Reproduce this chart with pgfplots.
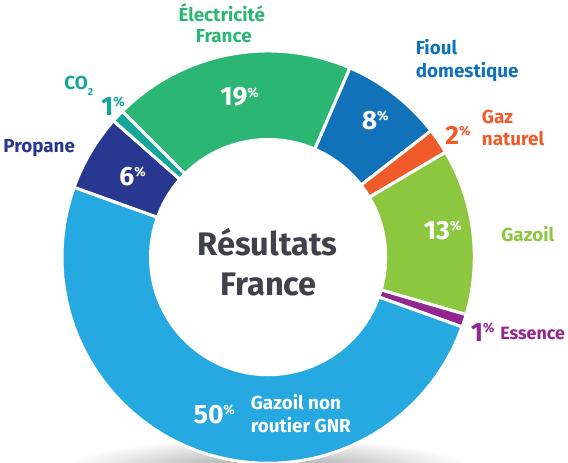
\documentclass[border=0pt]{standalone}
\usepackage{pgfplots}
\pgfplotsset{compat=1.18}
\usepackage{pgfplotstable}
\usepackage{fontspec}
\setmainfont{Fira Sans}
\definecolor{cElec}{RGB}{43,182,115}
\definecolor{cFioul}{RGB}{17,114,186}
\definecolor{cGaz}{RGB}{241,90,41}
\definecolor{cGazoil}{RGB}{141,198,63}
\definecolor{cEss}{RGB}{146,39,143}
\definecolor{cGNR}{RGB}{38,169,224}
\definecolor{cProp}{RGB}{40,56,144}
\definecolor{cCO}{RGB}{20,166,153}
\definecolor{cTxt}{RGB}{62,66,74}
\pgfplotstableread{
name value color
Elec 19 cElec
Fioul 8 cFioul
GazNat 2 cGaz
Gazoil 13 cGazoil
Essence 1 cEss
GNR 50 cGNR
Propane 6 cProp
CO2 1 cCO
}\shares
\def\cx{273.5}\def\cy{201.5}\def\Ro{202.5}\def\Ri{115.5}
\newcommand{\lab}{\fontsize{18.5}{20}\selectfont\bfseries}
\newcommand{\pct}[1]{{\fontsize{26}{26}\selectfont\bfseries #1}\raisebox{8.6pt}{\fontsize{13}{13}\selectfont\bfseries\%}}
\begin{document}
\begin{tikzpicture}
\begin{axis}[width=568pt,height=461pt,scale only axis,
  xmin=0,xmax=568,ymin=0,ymax=461,hide axis,clip=true,
  every node/.append style={inner sep=0pt}]
\shade[inner color=black!38,outer color=white] (axis cs:273,-6) ellipse [x radius=200pt, y radius=30pt];
\pgfmathsetmacro{\acc}{135}
\pgfplotsforeachungrouped \i in {0,...,7}{%
  \pgfplotstablegetelem{\i}{value}\of\shares \let\segval\pgfplotsretval
  \pgfplotstablegetelem{\i}{color}\of\shares \let\segcol\pgfplotsretval
  \pgfmathsetmacro{\angA}{\acc}%
  \pgfmathsetmacro{\angB}{\acc-3.6*\segval}%
  \edef\tmp{\noexpand\addplot[fill=\segcol, draw=white, line width=3pt, samples at={0,...,100}, variable=\noexpand\t]
     ({\cx+ifthenelse(\noexpand\t<50.5,\Ro,\Ri)*cos(ifthenelse(\noexpand\t<50.5,(\angA)+((\angB)-(\angA))*\noexpand\t/50,(\angB)-((\angB)-(\angA))*(\noexpand\t-51)/49))},
      {\cy+ifthenelse(\noexpand\t<50.5,\Ro,\Ri)*sin(ifthenelse(\noexpand\t<50.5,(\angA)+((\angB)-(\angA))*\noexpand\t/50,(\angB)-((\angB)-(\angA))*(\noexpand\t-51)/49))}) -- cycle;}%
  \tmp
  \global\let\acc\angB
}
% labels
\node[anchor=base,text=cElec] at (axis cs:228,433) {\lab Électricité};
\node[anchor=base,text=cElec] at (axis cs:230,412) {\lab France};
\node[anchor=base west,text=cFioul] at (axis cs:415,400) {\lab Fioul};
\node[anchor=base west,text=cFioul] at (axis cs:415,378) {\lab domestique};
\node[anchor=base west,text=cGaz] at (axis cs:480,333) {\lab Gaz};
\node[anchor=base west,text=cGaz] at (axis cs:480,311) {\lab naturel};
\node[anchor=base west,text=cGaz] at (axis cs:444,312) {\pct{2}};
\node[anchor=base west,text=white] at (axis cs:362,327) {\pct{8}};
\node[anchor=base west,text=white] at (axis cs:423,219) {\pct{13}};
\node[anchor=base west,text=cGazoil] at (axis cs:499,217) {\lab Gazoil};
\node[anchor=base west,text=cEss] at (axis cs:469,119) {\pct{1}};
\node[anchor=base west,text=cEss] at (axis cs:498,121) {\fontsize{17.5}{19}\selectfont\bfseries Essence};
\node[anchor=base west,text=white] at (axis cs:197,38) {\pct{50}};
\node[anchor=base west,text=white] at (axis cs:253,52) {\lab Gazoil non};
\node[anchor=base west,text=white] at (axis cs:253,29) {\lab routier GNR};
\node[anchor=base west,text=white] at (axis cs:124,272) {\pct{6}};
\node[anchor=base west,text=white] at (axis cs:223,350) {\pct{19}};
\node[anchor=base west,text=cCO] at (axis cs:106,341) {\pct{1}};
\node[anchor=base west,text=cCO] at (axis cs:70,366) {\lab CO\raisebox{-6pt}{\fontsize{10}{10}\selectfont\bfseries 2}};
\node[anchor=base west,text=cProp] at (axis cs:10,304) {\lab Propane};
\node[anchor=base,text=cTxt] at (axis cs:273,203) {\fontsize{32}{32}\selectfont\bfseries Résultats};
\node[anchor=base,text=cTxt] at (axis cs:274,164) {\fontsize{32}{32}\selectfont\bfseries France};
\end{axis}
\end{tikzpicture}
\end{document}
